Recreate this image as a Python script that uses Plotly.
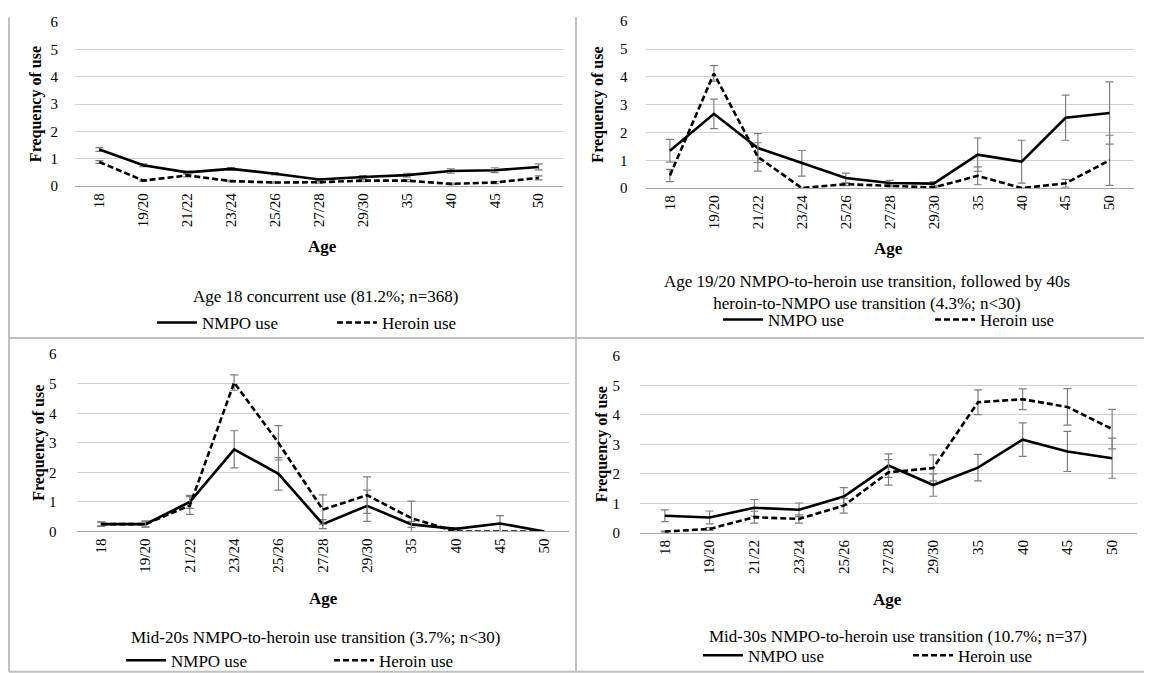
import plotly.graph_objects as go

ages = ["18", "19/20", "21/22", "23/24", "25/26", "27/28", "29/30", "35", "40", "45", "50"]

p1_nmpo = [1.34, 0.76, 0.50, 0.63, 0.45, 0.24, 0.33, 0.40, 0.55, 0.58, 0.70]
p1_nmpo_err = [0.07, 0.05, 0.05, 0.05, 0.04, 0.03, 0.05, 0.07, 0.08, 0.09, 0.11]
p1_her = [0.88, 0.20, 0.39, 0.18, 0.13, 0.14, 0.20, 0.20, 0.08, 0.13, 0.30]
p1_her_err = [0.05, 0.03, 0.05, 0.03, 0.02, 0.03, 0.04, 0.04, 0.03, 0.04, 0.07]

p2_nmpo = [1.34, 2.67, 1.44, 0.89, 0.36, 0.18, 0.16, 1.20, 0.95, 2.53, 2.70]
p2_nmpo_err = [0.41, 0.53, 0.52, 0.46, 0.18, 0.10, 0.07, 0.60, 0.77, 0.81, 1.12]
p2_her = [0.45, 4.12, 1.12, 0.00, 0.14, 0.08, 0.02, 0.44, 0.00, 0.17, 1.00]
p2_her_err = [0.22, 0.28, 0.51, 0.00, 0.05, 0.03, 0.02, 0.32, 0.00, 0.14, 0.90]

p3_nmpo = [0.25, 0.25, 1.00, 2.78, 1.95, 0.25, 0.87, 0.24, 0.09, 0.27, 0.00]
p3_nmpo_err = [0.08, 0.10, 0.22, 0.63, 0.55, 0.15, 0.53, 0.10, 0.04, 0.27, 0.00]
p3_her = [0.25, 0.25, 0.88, 5.04, 3.00, 0.74, 1.23, 0.45, 0.00, 0.00, 0.00]
p3_her_err = [0.06, 0.10, 0.30, 0.26, 0.58, 0.50, 0.62, 0.58, 0.00, 0.00, 0.00]

p4_nmpo = [0.58, 0.52, 0.85, 0.78, 1.23, 2.28, 1.62, 2.21, 3.16, 2.76, 2.53]
p4_nmpo_err = [0.20, 0.22, 0.28, 0.23, 0.30, 0.40, 0.38, 0.45, 0.57, 0.68, 0.68]
p4_her = [0.04, 0.13, 0.53, 0.47, 0.92, 2.05, 2.20, 4.43, 4.53, 4.27, 3.52]
p4_her_err = [0.02, 0.05, 0.20, 0.14, 0.25, 0.43, 0.44, 0.42, 0.35, 0.62, 0.67]

captions = [
    "Age 18 concurrent use (81.2%; n=368)",
    "Age 19/20 NMPO-to-heroin use transition, followed by 40s<br>heroin-to-NMPO use transition (4.3%; n<30)",
    "Mid-20s NMPO-to-heroin use transition (3.7%; n<30)",
    "Mid-30s NMPO-to-heroin use transition (10.7%; n=37)",
]

# observed page placement: window_x = fig_x + 8 ; window_y = 0.977 * fig_y + 14.8
OX, OY, SY = 8, 14.8, 0.977
W, H = 1144, 673
FONT = "Times New Roman, Liberation Serif, Tinos, serif"

def px(x):
    return (x - OX) / W

def py(y):
    return 1 - ((y - OY) / SY) / H

# plot-area boxes in window pixels: left, right, top(6), bottom(0)
boxes = [
    (75, 563, 21, 185),
    (645.5, 1134, 20, 187),
    (76.6, 569, 353.3, 530.7),
    (640, 1137, 355, 532),
]
age_pos = [(322, 245), (888, 247), (323, 598), (887, 599)]
cap_pos = [(325, 296), (867, 292), (315, 637), (898, 636)]
leg_y = [322, 319, 660, 655]
leg_start = [157, 723, 126, 703]
leg_spacing = [181, 213, 209, 211]
ytitle_x = [36, 598, 39, 602]
ytick_len = [13, 14, 16, 16]

panels = [
    (p1_nmpo, p1_nmpo_err, p1_her, p1_her_err),
    (p2_nmpo, p2_nmpo_err, p2_her, p2_her_err),
    (p3_nmpo, p3_nmpo_err, p3_her, p3_her_err),
    (p4_nmpo, p4_nmpo_err, p4_her, p4_her_err),
]

fig = go.Figure()
annotations = []
layout_extra = {}

for i, (nm, nme, he, hee) in enumerate(panels):
    k = i + 1
    xa = "x" if k == 1 else f"x{k}"
    ya = "y" if k == 1 else f"y{k}"
    lg = "legend" if k == 1 else f"legend{k}"
    err_style = dict(type="data", visible=True, color="#7f7f7f", thickness=1.2, width=4)
    fig.add_trace(go.Scatter(
        x=ages, y=nm, mode="lines", name="NMPO use",
        line=dict(color="black", width=2.6),
        error_y=dict(array=nme, **err_style),
        xaxis=xa, yaxis=ya, legend=lg, cliponaxis=True,
    ))
    fig.add_trace(go.Scatter(
        x=ages, y=he, mode="lines", name="Heroin use",
        line=dict(color="black", width=2.6, dash="6px,3px"),
        error_y=dict(array=hee, **err_style),
        xaxis=xa, yaxis=ya, legend=lg, cliponaxis=True,
    ))
    l, r, t, b = boxes[i]
    xkey = "xaxis" if k == 1 else f"xaxis{k}"
    ykey = "yaxis" if k == 1 else f"yaxis{k}"
    layout_extra[xkey] = dict(
        domain=[px(l), px(r)], anchor=ya, type="category",
        tickangle=-90, tickfont=dict(family=FONT, size=15, color="black"),
        showgrid=False, showline=True, linecolor="#a6a6a6", linewidth=1.2,
        ticks="", zeroline=False, fixedrange=True,
    )
    layout_extra[ykey] = dict(
        domain=[py(b), py(t)], anchor=xa, range=[0, 6], dtick=1,
        tickfont=dict(family=FONT, size=15, color="black"),
        showgrid=True, gridcolor="#d0d0d0", gridwidth=1.2,
        showline=False, zeroline=False,
        ticks="outside", ticklen=ytick_len[i], tickcolor="rgba(0,0,0,0)",
        fixedrange=True,
    )
    sp = leg_spacing[i]
    layout_extra[lg] = dict(
        orientation="h", x=px(leg_start[i] + sp - 6), xanchor="center",
        y=py(leg_y[i]), yanchor="middle",
        font=dict(family=FONT, size=17, color="black"), bgcolor="rgba(0,0,0,0)",
        entrywidth=sp - 56, itemwidth=40,
    )
    annotations.append(dict(
        text="<b>Frequency of use</b>", textangle=-90, xref="paper", yref="paper",
        x=px(ytitle_x[i]), y=py((t + b) / 2), xanchor="center", yanchor="middle",
        showarrow=False, font=dict(family=FONT, size=16, color="black"),
    ))
    annotations.append(dict(
        text="<b>Age</b>", xref="paper", yref="paper",
        x=px(age_pos[i][0]), y=py(age_pos[i][1]), xanchor="center", yanchor="middle",
        showarrow=False, font=dict(family=FONT, size=17, color="black"),
    ))
    annotations.append(dict(
        text=captions[i], xref="paper", yref="paper",
        x=px(cap_pos[i][0]), y=py(cap_pos[i][1]), xanchor="center", yanchor="middle",
        showarrow=False, font=dict(family=FONT, size=17, color="black"),
    ))

border = "#c0c0c0"
shapes = []
for xv in [9, 576, 1149]:
    shapes.append(dict(type="line", xref="paper", yref="paper",
                       x0=px(xv), x1=px(xv), y0=py(16), y1=py(671),
                       line=dict(color=border, width=2)))
for yv in [337, 671]:
    shapes.append(dict(type="line", xref="paper", yref="paper",
                       x0=px(9), x1=px(1149), y0=py(yv), y1=py(yv),
                       line=dict(color=border, width=2)))

fig.update_layout(
    width=W, height=H, margin=dict(l=0, r=0, t=0, b=0),
    paper_bgcolor="white", plot_bgcolor="white",
    font=dict(family=FONT, color="black"),
    showlegend=True, annotations=annotations, shapes=shapes,
    **layout_extra,
)

fig.write_html("out.html")
